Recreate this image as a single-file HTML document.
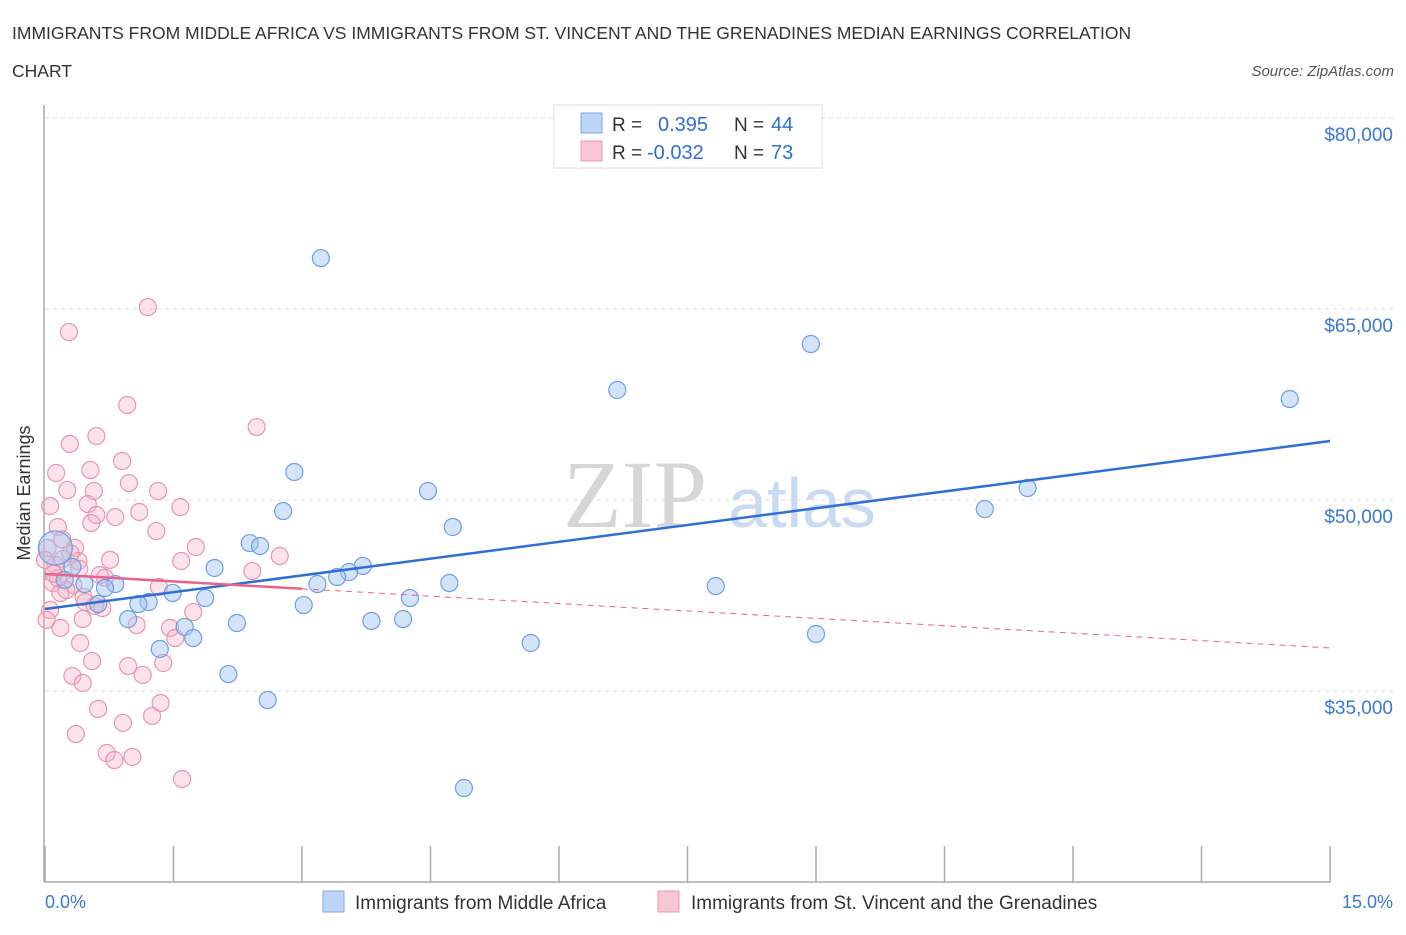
<!DOCTYPE html>
<html><head><meta charset="utf-8"><style>
body{margin:0;background:#fff;font-family:"Liberation Sans",sans-serif;}
svg text{font-family:"Liberation Sans",sans-serif;}
</style></head><body>
<svg id="chart" width="1406" height="930" xmlns="http://www.w3.org/2000/svg">
<text x="12" y="39" font-size="17.5" fill="#333">IMMIGRANTS FROM MIDDLE AFRICA VS IMMIGRANTS FROM ST. VINCENT AND THE GRENADINES MEDIAN EARNINGS CORRELATION</text>
<text x="12" y="77" font-size="17.5" fill="#333">CHART</text>
<text x="1394" y="76" font-size="15" fill="#555" text-anchor="end" font-style="italic">Source: ZipAtlas.com</text>
<text x="635" y="527" font-size="96" fill="#d6d6d6" text-anchor="middle" font-family="Liberation Serif" style="font-family:'Liberation Serif',serif">ZIP</text>
<text x="802" y="527" font-size="70" fill="#c9daf2" text-anchor="middle">atlas</text>
<g id="grid"></g>
<g id="axes"></g>
<g id="pts"></g>
<g id="lines"></g>
<text x="30" y="493" font-size="18" fill="#333" text-anchor="middle" transform="rotate(-90 30 493)">Median Earnings</text>
<text x="45" y="908" font-size="18" fill="#3a78d4">0.0%</text>
<text x="1393" y="908" font-size="18" fill="#3a78d4" text-anchor="end">15.0%</text>
<g>
<rect x="323" y="891" width="21" height="21" fill="#bcd4f6" stroke="#7ea8e6"/>
<text x="355" y="909" font-size="19" fill="#333">Immigrants from Middle Africa</text>
<rect x="658" y="891" width="21" height="21" fill="#f9c6d6" stroke="#eb98b3"/>
<text x="691" y="909" font-size="19" fill="#333">Immigrants from St. Vincent and the Grenadines</text>
</g>
<g>
<rect x="554" y="105" width="268" height="63" fill="#fff" stroke="#ddd"/>
<rect x="581" y="113" width="21" height="20" fill="#bcd4f6" stroke="#7ea8e6"/>
<text x="612" y="131" font-size="19" fill="#333">R = </text><text x="658" y="131" font-size="20" fill="#2f6fcf">0.395</text>
<text x="734" y="131" font-size="19" fill="#333">N = </text><text x="771" y="131" font-size="20" fill="#2f6fcf">44</text>
<rect x="581" y="141" width="21" height="20" fill="#f9c6d6" stroke="#eb98b3"/>
<text x="612" y="159" font-size="19" fill="#333">R = </text><text x="647" y="159" font-size="20" fill="#2f6fcf">-0.032</text>
<text x="734" y="159" font-size="19" fill="#333">N = </text><text x="771" y="159" font-size="20" fill="#2f6fcf">73</text>
</g>
</svg>
<script>
const yTicks=[80000,65000,50000,35000];
const yTickLabels=["$80,000","$65,000","$50,000","$35,000"];
const xTicks=[0,1.5,3,4.5,6,7.5,9,10.5,12,13.5,15];
const blueX=[3.22,8.94,6.68,14.53,2.91,4.47,11.47,10.97,2.78,4.76,2.39,2.51,1.98,3.71,3.55,3.41,3.18,0.82,0.70,0.46,1.49,1.87,1.21,1.09,4.26,4.72,3.02,7.83,0.97,2.24,3.81,4.18,1.63,1.73,1.34,5.67,9.00,2.14,2.60,4.89,0.32,0.62,0.23,0.12];
const blueY=[69000,62250,58640,57930,52200,50700,50940,49290,49130,47880,46620,46390,44660,44820,44340,43950,43400,43400,43090,43400,42700,42300,41990,41830,42300,43480,41750,43245,40650,40340,40500,40650,40030,39160,38300,38770,39475,36330,34290,27380,44740,41830,43720,46230];
const pinkX=[1.20,0.28,0.96,2.47,0.29,0.60,0.13,0.53,0.90,0.26,0.57,0.98,1.32,0.06,0.50,0.60,0.82,1.10,1.58,0.15,0.54,1.30,0.35,0.39,1.76,1.59,2.74,2.42,0.21,0.09,1.33,0.33,0.18,0.47,0.67,0.06,0.02,0.44,1.73,1.07,0.18,1.46,1.52,0.41,0.55,0.97,1.14,1.38,0.32,0.44,0.62,0.91,1.25,1.35,0.36,0.72,0.81,1.02,1.60,0.03,0.12,0.64,0.25,0.58,0.76,0.00,0.15,0.40,0.70,0.30,0.45,0.10,0.20];
const pinkY=[65150,63190,57460,55730,54400,55020,52120,52350,53060,50780,50700,51330,50700,49530,49680,48820,48660,49060,49450,47880,48190,47560,46230,45210,46310,45210,45600,44420,45370,43480,43170,43320,42700,41990,41520,41360,40580,40650,41200,40180,39950,39950,39160,38770,37350,36960,36260,37200,36180,35630,33590,32490,33040,34060,31620,30130,29580,29820,28090,46230,44900,44100,42930,41680,45300,45300,43870,44600,43900,45800,42400,44200,46900];
const blueTrend=[41440,54630];
const pinkTrend=[44190,38380];
const X0=45,X1=1330,YB=882;
const xs=v=>X0+(v/15)*(X1-X0);
const ys=v=>YB-(v-20000)/15000*191;
const NS="http://www.w3.org/2000/svg";
function mk(tag,attrs,parent){const e=document.createElementNS(NS,tag);for(const k in attrs)e.setAttribute(k,attrs[k]);parent.appendChild(e);return e;}
const grid=document.getElementById('grid'),axes=document.getElementById('axes'),pts=document.getElementById('pts'),lines=document.getElementById('lines');
yTicks.forEach((t,i)=>{
 const l=mk('line',{x1:X0,x2:1393,y1:ys(t),y2:ys(t),stroke:'#dcdcdc','stroke-dasharray':'4,4'},grid);
 
 
 const tx=mk('text',{x:1393,y:ys(t)+23,'font-size':19,fill:'#3a78d4','text-anchor':'end'},grid);
 tx.textContent=yTickLabels[i];
 
 
});
const ax=mk('line',{x1:44,x2:44,y1:105,y2:YB,stroke:'#aaa','stroke-width':1.5},axes);


const bx=mk('line',{x1:44,x2:1331,y1:YB,y2:YB,stroke:'#aaa','stroke-width':1.5},axes);


xTicks.forEach(t=>{
 const l=mk('line',{x1:xs(t),x2:xs(t),y1:YB-36,y2:YB,stroke:'#aaa','stroke-width':1.5},axes);
 
 
});
pinkX.forEach((x,i)=>{
 const c=mk('circle',{cx:xs(x),cy:ys(pinkY[i]),r:8.5,fill:'rgba(246,176,198,0.35)',stroke:'#e995b0','stroke-width':1.2},pts);
 
 
});
blueX.forEach((x,i)=>{
 const big=(i===blueX.length-1);
 const c=mk('circle',{cx:xs(x),cy:ys(blueY[i]),r:big?17:8.5,fill:'rgba(160,196,240,0.45)',stroke:'#6e9fe2','stroke-width':1.2},pts);
 
 
});
const bl=mk('line',{x1:xs(0),y1:ys(blueTrend[0]),x2:xs(15),y2:ys(blueTrend[1]),stroke:'#2e6fd6','stroke-width':2.5},lines);


const pAt=x=>pinkTrend[0]+(pinkTrend[1]-pinkTrend[0])*x/15;
const ps=mk('line',{x1:xs(0),y1:ys(pAt(0)),x2:xs(3),y2:ys(pAt(3)),stroke:'#e8628e','stroke-width':2.5},lines);


const pd=mk('line',{x1:xs(3),y1:ys(pAt(3)),x2:xs(15),y2:ys(pAt(15)),stroke:'#e8628e','stroke-width':1,'stroke-dasharray':'6,5'},lines);


</script>
</body></html>
